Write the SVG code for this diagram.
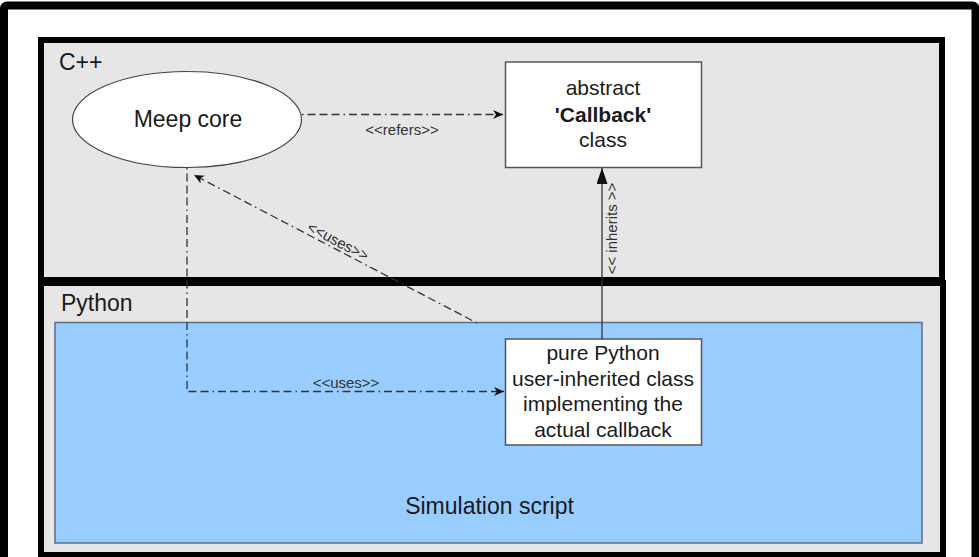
<svg xmlns="http://www.w3.org/2000/svg" width="979" height="557" viewBox="0 0 979 557">
<style>
  text { font-family: "Liberation Sans", Arial, sans-serif; fill: #1a1a1a; }
  .big { font-size: 23px; }
  .node { font-size: 21px; text-anchor: middle; }
  .lbl { font-size: 15px; text-anchor: middle; fill: #333; }
  .box { fill: #ffffff; stroke: #555; stroke-width: 1.5; }
  .dd { fill: none; stroke: #333; stroke-width: 1.3; stroke-dasharray: 1.5 4 8 4 8 4 8 4; }
</style>
<defs>
  <marker id="open" markerUnits="userSpaceOnUse" markerWidth="12" markerHeight="10" refX="10" refY="4.5" orient="auto">
    <path d="M0,0 L10,4.5 L0,9 L3,4.5 z" fill="#111"/>
  </marker>
  <marker id="tri" markerUnits="userSpaceOnUse" markerWidth="18" markerHeight="12" refX="16" refY="5.5" orient="auto">
    <path d="M0,0 L16,5.5 L0,11 z" fill="#111"/>
  </marker>
</defs>
<rect x="4" y="5.5" width="971.5" height="560" rx="3" fill="#ffffff" stroke="#000" stroke-width="8"/>
<g id="cpp">
  <rect x="41" y="40" width="901" height="240" fill="#e6e6e6" stroke="#000" stroke-width="6"/>
  <text class="big" x="59" y="70">C++</text>
</g>
<g id="python">
  <rect x="41" y="283" width="902" height="272" fill="#e6e6e6" stroke="#000" stroke-width="6"/>
  <text class="big" x="61" y="311">Python</text>
</g>
<g id="simulation-script">
  <rect x="55" y="322.5" width="867" height="220.5" fill="#99ccff" stroke="#5a6e8a" stroke-width="1.5"/>
  <text class="big" x="489.5" y="514" text-anchor="middle">Simulation script</text>
</g>
<g id="meep-core">
  <ellipse cx="187" cy="119.5" rx="114.5" ry="48" fill="#ffffff" stroke="#444" stroke-width="1.2"/>
  <text class="big" x="188" y="127" text-anchor="middle">Meep core</text>
</g>
<g id="callback">
  <rect class="box" x="505.5" y="62" width="196" height="105.5"/>
  <text class="node" x="603" y="95">abstract</text>
  <text class="node" x="603" y="121.5"><tspan font-weight="bold">'Callback'</tspan></text>
  <text class="node" x="603" y="147">class</text>
</g>
<g id="python-class">
  <rect class="box" x="505.5" y="339" width="196" height="106"/>
  <text class="node" x="603" y="360">pure Python</text>
  <text class="node" x="603" y="385.5">user-inherited class</text>
  <text class="node" x="603" y="411">implementing the</text>
  <text class="node" x="603" y="437">actual callback</text>
</g>
<g id="connectors">
  <line class="dd" x1="302" y1="114.5" x2="503" y2="114.5" marker-end="url(#open)"/>
  <text class="lbl" x="402" y="135">&lt;&lt;refers&gt;&gt;</text>
  <line x1="602" y1="339" x2="602" y2="168" stroke="#333" stroke-width="1.3" marker-end="url(#tri)"/>
  <text class="lbl" transform="translate(617,228.5) rotate(-90)" x="0" y="0">&lt;&lt; inherits &gt;&gt;</text>
  <line class="dd" x1="477" y1="323" x2="194" y2="175" marker-end="url(#open)"/>
  <text class="lbl" transform="translate(338,241.5) rotate(27.6)" x="0" y="5">&lt;&lt;uses&gt;&gt;</text>
  <path class="dd" d="M187,168 V391.5 H504" marker-end="url(#open)"/>
  <text class="lbl" x="346" y="388">&lt;&lt;uses&gt;&gt;</text>
</g>
</svg>
